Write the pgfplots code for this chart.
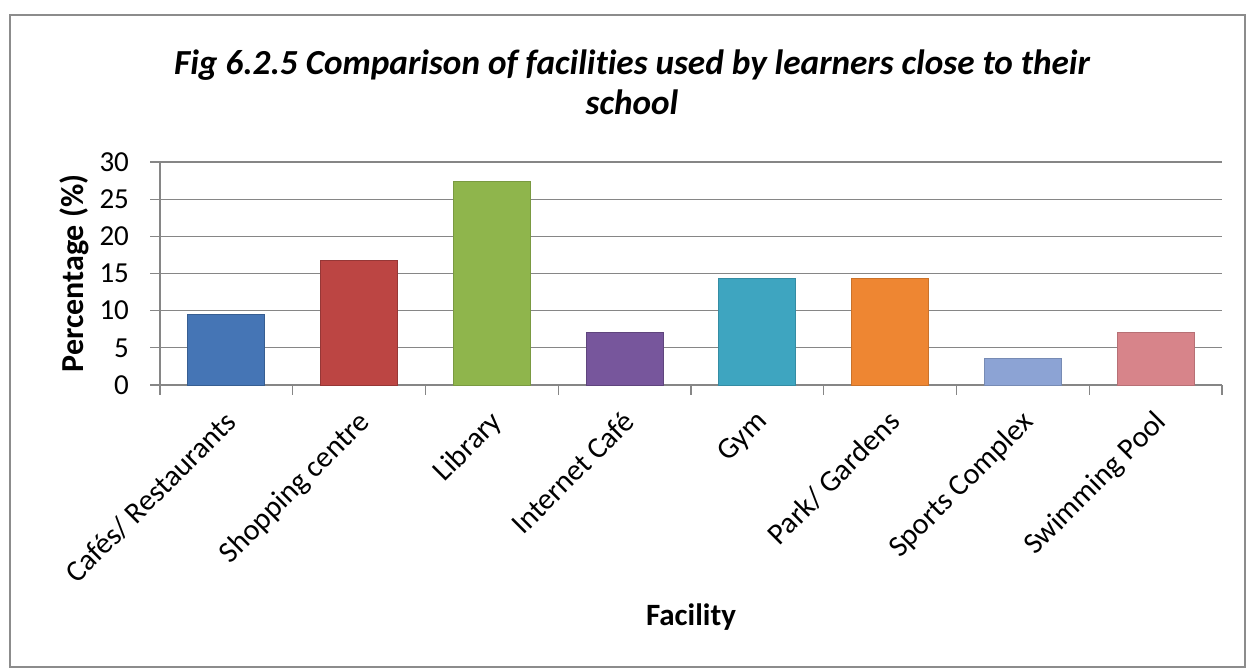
\documentclass[border=0pt]{standalone}
\usepackage{fontspec}
\setmainfont{Carlito}[Ligatures={NoCommon}]
\usepackage{pgfplots}
\pgfplotsset{compat=1.18}
\definecolor{gridc}{HTML}{868686}
\definecolor{framec}{HTML}{8C8C8C}
\definecolor{c1}{HTML}{4575B5}
\definecolor{c2}{HTML}{BC4543}
\definecolor{c3}{HTML}{8FB54C}
\definecolor{c4}{HTML}{77569C}
\definecolor{c5}{HTML}{3EA5C0}
\definecolor{c6}{HTML}{EE8632}
\definecolor{c7}{HTML}{8CA3D4}
\definecolor{c8}{HTML}{D7848A}
\begin{document}
\begin{tikzpicture}
\useasboundingbox (0,0) rectangle (628pt,334pt);
\draw[framec, line width=0.9pt] (5pt,0.6pt) rectangle (622.5pt,326.5pt);
\node[anchor=base, font=\fontsize{17.6}{20}\selectfont\bfseries\itshape] at (316pt,296.5pt) {Fig 6.2.5 Comparison of facilities used by learners close to their};
\node[anchor=base, font=\fontsize{17.6}{20}\selectfont\bfseries\itshape] at (316pt,276.5pt) {school};
\begin{axis}[
  at={(80pt,141.5pt)}, anchor=south west,
  scale only axis, width=531pt, height=111.5pt,
  ymin=0, ymax=30, ytick={0,5,...,30},
  xmin=-0.5, xmax=7.5,
  xtick={0,...,7},
  xticklabels={Cafés/ Restaurants, Shopping centre, Library, Internet Café, Gym, Park/ Gardens, Sports Complex, Swimming Pool},
  minor xtick={-0.5,0.5,...,7.5},
  axis x line*=bottom, axis y line*=left,
  axis line style={gridc, line width=0.6pt},
  ymajorgrids, grid style={gridc, line width=0.6pt},
  tick align=outside,
  major tick length=5pt, minor tick length=5pt,
  x tick style={draw=none},
  minor x tick style={draw=gridc, line width=0.6pt},
  y tick style={gridc, line width=0.6pt},
  /pgf/number format/assume math mode=true,
  yticklabel style={font=\fontsize{14.5}{15}\selectfont, xshift=-7pt},
  xticklabel style={font=\fontsize{15}{16}\selectfont, xshift=-1.5pt, yshift=-2pt, rotate=45, anchor=north east},
  every axis y label/.style={at={(axis description cs:0,0.5)}, xshift=-43pt, rotate=90, anchor=center, font=\fontsize{16}{17}\selectfont\bfseries},
  every axis x label/.style={at={(axis description cs:0.5,0)}, yshift=-120pt, anchor=base, font=\fontsize{15.5}{16}\selectfont\bfseries},
  ylabel={Percentage (\%)},
  xlabel={Facility},
  ybar, bar width=38.5pt, bar shift=0pt,
  clip=false,
]
\addplot[fill=c1, draw=c1!80!black] coordinates {(0,9.5)};
\addplot[fill=c2, draw=c2!80!black] coordinates {(1,16.7)};
\addplot[fill=c3, draw=c3!85!black] coordinates {(2,27.4)};
\addplot[fill=c4, draw=c4!80!black] coordinates {(3,7.1)};
\addplot[fill=c5, draw=c5!85!black] coordinates {(4,14.3)};
\addplot[fill=c6, draw=c6!85!black] coordinates {(5,14.3)};
\addplot[fill=c7, draw=c7!85!black] coordinates {(6,3.6)};
\addplot[fill=c8, draw=c8!85!black] coordinates {(7,7.1)};
\end{axis}
\end{tikzpicture}
\end{document}
